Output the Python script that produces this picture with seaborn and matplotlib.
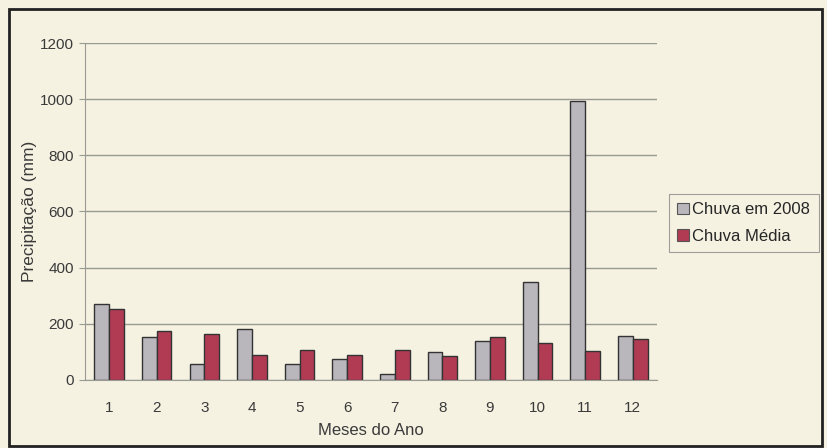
import pandas as pd
import seaborn as sns
import matplotlib.pyplot as plt
from matplotlib.patches import Rectangle

meses = [1, 2, 3, 4, 5, 6, 7, 8, 9, 10, 11, 12]
chuva_2008 = [271, 154, 56, 182, 58, 74, 20, 100, 140, 350, 995, 155]
chuva_media = [252, 175, 165, 87, 105, 88, 107, 85, 152, 132, 103, 145]
series = ['Chuva em 2008', 'Chuva Média']

df = pd.DataFrame({'mes': meses * 2,
                   'valor': chuva_2008 + chuva_media,
                   'serie': [series[0]] * 12 + [series[1]] * 12})

sns.set_style("white")
plt.rcParams['font.family'] = ['Liberation Sans', 'DejaVu Sans']

bg = '#f5f2e2'
txt = '#3a3a3a'
fig = plt.figure(figsize=(8.28, 4.48), dpi=100, facecolor=bg)
ax = fig.add_axes([0.103, 0.152, 0.69, 0.752])
ax.set_facecolor(bg)

cores = {series[0]: '#b9b6bc', series[1]: '#b23b54'}
sns.barplot(x='mes', y='valor', hue='serie', data=df, palette=cores,
            width=0.62, saturation=1, edgecolor='#333333', linewidth=1,
            legend=False, ax=ax)

ax.set_ylim(0, 1200)
ax.set_yticks(range(0, 1201, 200))
ax.set_xlim(-0.5, 11.5)
ax.yaxis.grid(True, color='#9a9a94', linewidth=1)
ax.set_axisbelow(True)
for s in ['top', 'right']:
    ax.spines[s].set_visible(False)
ax.spines['left'].set_color('#9a9a94')
ax.spines['bottom'].set_color('#9a9a94')

ax.set_xticks(range(12), [str(m) for m in meses])
ax.set_xticks([i - 0.5 for i in range(13)], minor=True)
ax.tick_params(axis='x', which='major', length=0, pad=15, labelsize=11, colors=txt)
ax.tick_params(axis='x', which='minor', length=4, color='#9a9a94', direction='out')
ax.tick_params(axis='y', length=4, color='#9a9a94', labelsize=11, colors=txt, pad=4)
ax.tick_params(axis='both', bottom=True, left=True)

ax.set_xlabel('Meses do Ano', fontsize=12, color=txt, labelpad=6)
ax.set_ylabel('Precipitação (mm)', fontsize=12.5, color=txt, labelpad=2)

handles = [Rectangle((0, 0), 1, 1, facecolor=cores[s], edgecolor='#555555', linewidth=0.8) for s in series]
leg = fig.legend(handles, series, loc='upper left', bbox_to_anchor=(669 / 828, 1 - 194 / 448),
                 frameon=True, fancybox=False, fontsize=12, handlelength=0.7, handleheight=0.7,
                 handletextpad=0.2, borderpad=0.5, labelspacing=0.7, borderaxespad=0)
leg.get_frame().set_edgecolor('#888888')
leg.get_frame().set_facecolor(bg)
leg.get_frame().set_linewidth(0.8)

fig.patches.append(Rectangle((9 / 828, 2 / 448), 813 / 828, 437 / 448, transform=fig.transFigure,
                             fill=False, edgecolor='#222222', linewidth=2))

plt.savefig('out.png', dpi=100, facecolor=bg)
